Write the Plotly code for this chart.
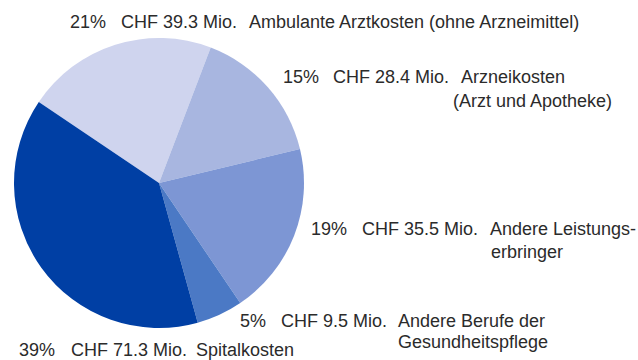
import plotly.graph_objects as go

# Gesundheitskosten nach Leistungserbringer (CHF Mio.)
categories = [
    "Ambulante Arztkosten (ohne Arzneimittel)",
    "Arzneikosten|(Arzt und Apotheke)",
    "Andere Leistungs-|erbringer",
    "Andere Berufe der|Gesundheitspflege",
    "Spitalkosten",
]
values = [39.3, 28.4, 35.5, 9.5, 71.3]
colors = ["#CFD4EE", "#A8B6E0", "#7D96D4", "#4B79C5", "#003FA4"]

W, H = 638, 360
cx, cy, r = 159, 183, 145

fig = go.Figure(go.Pie(
    labels=[c.replace("|", " ") for c in categories],
    values=values,
    marker=dict(colors=colors, line=dict(width=0)),
    sort=False,
    direction="clockwise",
    rotation=-56,
    textinfo="none",
    hoverinfo="label+percent+value",
    domain=dict(x=[(cx - r) / W, (cx + r) / W],
                y=[(H - cy - r) / H, (H - cy + r) / H]),
    showlegend=False,
))

# label layout: x of percent, x of amount, x of category, y centre of first line,
# and per extra line its (x, y)
label_pos = [
    (69, 120, 248, 21.5, []),
    (282, 332, 460, 77, [(452, 101)]),
    (310, 361, 489, 229.5, [(490, 252.5)]),
    (239, 280, 397, 321, [(397, 342)]),
    (18, 70, 195, 350, []),
]

total = sum(values)
font = dict(family="Liberation Sans", size=18, color="#2b2b2b")
annotations = []


def add(text, x, y):
    annotations.append(dict(
        text=text, x=x / W, y=1 - y / H, xref="paper", yref="paper",
        xanchor="left", yanchor="middle", showarrow=False, font=font,
        borderpad=0,
    ))


for cat, val, (xp, xa, xc, y, extra) in zip(categories, values, label_pos):
    lines = cat.split("|")
    add(f"{round(val / total * 100)}%", xp, y)
    add(f"CHF {val:.1f} Mio.", xa, y)
    add(lines[0], xc, y)
    for line, (xl, yl) in zip(lines[1:], extra):
        add(line, xl, yl)

fig.update_layout(
    width=W, height=H,
    margin=dict(l=0, r=0, t=0, b=0),
    paper_bgcolor="white",
    plot_bgcolor="white",
    annotations=annotations,
)

fig.write_html("out.html")
